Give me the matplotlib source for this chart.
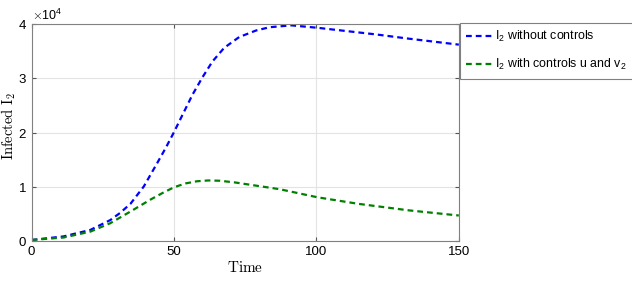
import numpy as np
import matplotlib
matplotlib.use("Agg")
import matplotlib.pyplot as plt
from matplotlib.ticker import ScalarFormatter

plt.rcParams['font.family'] = ['Liberation Sans', 'DejaVu Sans']
plt.rcParams['mathtext.fontset'] = 'cm'

# values
t_blue = [0, 11.2, 20.6, 27.6, 31, 34.7, 39.4, 44.1, 47.1, 50, 53, 56.5, 60, 63.5,
          67.6, 72.9, 78.8, 83.5, 91.2, 100.4, 108.8, 120.6, 132.4, 150]
i2_blue = [240, 900, 2090, 3900, 5200, 6900, 10100, 14400, 17200, 20100, 23300, 27000,
           30200, 33100, 35600, 37600, 38800, 39400, 39750, 39300, 38800, 38100,
           37300, 36200]
t_green = [0, 11.2, 20.6, 27.6, 34.7, 41.8, 46, 50, 54, 58, 62, 66, 71.2, 79.4, 87,
           100.4, 114.7, 132.4, 150]
i2_green = [250, 700, 1780, 3330, 5480, 7700, 8900, 9950, 10650, 11050, 11200, 11150,
            10850, 10200, 9600, 8100, 6900, 5700, 4750]

fig = plt.figure(figsize=(6.32, 2.89), dpi=100)
ax = fig.add_axes([0.050, 0.165, 0.676, 0.752])

l1, = ax.plot(t_blue, i2_blue, color=(0, 0, 1), ls=(0, (2.6, 1.8)), lw=1.6,
              label=r'$\mathregular{I_2}$ without controls')
l2, = ax.plot(t_green, i2_green, color=(0, 0.5, 0), ls=(0, (2.6, 1.8)), lw=1.6,
              label=r'$\mathregular{I_2}$ with controls u and $\mathregular{v_2}$')

ax.set_xlim(0, 150)
ax.set_ylim(0, 40000)
ax.set_xticks([0, 50, 100, 150])
ax.set_yticks([0, 10000, 20000, 30000, 40000])
fmt = ScalarFormatter(useMathText=True)
fmt.set_powerlimits((0, 0))
ax.yaxis.set_major_formatter(fmt)
ax.yaxis.get_offset_text().set_fontsize(9)

ax.grid(True, color='#e3e3e3', lw=0.8)
ax.tick_params(direction='in', top=True, right=True, labelsize=9.5, length=3,
               color='#555555')
for s in ax.spines.values():
    s.set_color('#808080')
    s.set_linewidth(0.8)

ax.set_xlabel(r'$\mathrm{Time}$', fontsize=11, labelpad=1)
ax.set_ylabel(r'$\mathrm{Infected\ I_2}$', fontsize=10.5)
ax.yaxis.set_label_coords(-0.031, 0.53)

leg = fig.legend(handles=[l1, l2], loc='upper left', bbox_to_anchor=(0.728, 0.92),
                 borderaxespad=0, fontsize=8.9, fancybox=False, framealpha=1,
                 edgecolor='#808080', handlelength=2.2, handletextpad=0.15,
                 labelspacing=1.05, borderpad=0.5)
leg.get_frame().set_linewidth(0.8)

fig.savefig('out.png', dpi=100)
